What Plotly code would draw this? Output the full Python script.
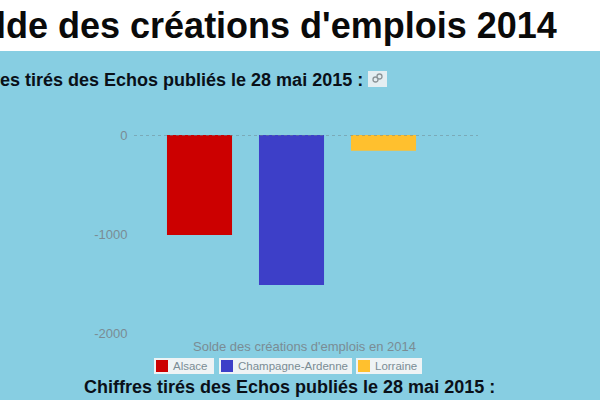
import plotly.graph_objects as go

regions = ["Alsace", "Champagne-Ardenne", "Lorraine"]
soldes = [-1010, -1515, -160]
colors = ["#CC0000", "#3D3FC8", "#FFC02E"]
y_ticks = [0, -1000, -2000]
y_labels = ["0", "-1000", "-2000"]

BG = "#87CEE2"
FONT = "Liberation Sans, Arial, sans-serif"
GREY = "#7A8C94"

# plot area in pixels
L, R, T, B = 134, 478, 135, 333


def px(x):
    return (x - L) / (R - L)


def py(y):
    return 1 - (y - T) / (B - T)


def rect(x0, y0, x1, y1, color):
    return dict(
        type="rect", xref="paper", yref="paper",
        x0=px(x0), x1=px(x1), y0=py(y0), y1=py(y1),
        fillcolor=color, line_width=0, layer="below",
    )


def text(s, x, y, anchor, size, color, bold=False):
    return dict(
        text=f"<b>{s}</b>" if bold else s,
        xref="paper", yref="paper", x=px(x), y=py(y),
        xanchor=anchor, yanchor="middle", showarrow=False,
        font=dict(family=FONT, size=size, color=color),
    )


fig = go.Figure()
for region, solde, color in zip(regions, soldes, colors):
    fig.add_trace(
        go.Bar(
            x=[region], y=[solde], name=region, marker_color=color,
            marker_line_width=0, width=0.707, showlegend=False,
        )
    )

shapes = [rect(0, 0, 600, 51, "white")]
shapes.append(
    dict(
        type="line", xref="paper", yref="y", x0=0, x1=1, y0=0, y1=0,
        line=dict(color="#6F868E", width=1, dash="3px,3px"), layer="above",
    )
)
# link icon next to the subtitle
shapes.append(rect(368, 71, 387, 87, "#E4EEF2"))
for x0, y0, x1, y1 in [(373, 82, 378, 77), (377, 79, 382, 74)]:
    shapes.append(
        dict(
            type="circle", xref="paper", yref="paper",
            x0=px(x0), x1=px(x1), y0=py(y0), y1=py(y1),
            line=dict(color="#8C9599", width=1.3), fillcolor="rgba(0,0,0,0)",
        )
    )

annotations = [
    text("Solde des créations d'emplois 2014", 559, 25, "right", 36, "#0A0A0A", True),
    text("Chiffres tirés des Echos publiés le 28 mai 2015 :", 365, 80, "right", 18, "#0A1018", True),
    text("Solde des créations d'emplois en 2014", 304, 346, "center", 13, GREY),
    text("Chiffres tirés des Echos publiés le 28 mai 2015 :", 289, 387, "center", 18, "#0A1018", True),
]

# legend entries: white box, swatch, label
legend_boxes = [(154, 214), (219, 352), (356, 422)]
for region, color, (x0, x1) in zip(regions, colors, legend_boxes):
    shapes.append(rect(x0, 358, x1, 374, "#EEF3F5"))
    shapes.append(rect(x0 + 2, 360, x0 + 14, 372, color))
    annotations.append(text(region, x0 + 17, 366, "left", 11.5, GREY))

fig.update_layout(
    width=600,
    height=400,
    margin=dict(l=L, r=600 - R, t=T, b=400 - B, autoexpand=False),
    paper_bgcolor=BG,
    plot_bgcolor="rgba(0,0,0,0)",
    barmode="overlay",
    shapes=shapes,
    annotations=annotations,
    font=dict(family=FONT),
)
fig.update_xaxes(visible=False, type="category", categoryarray=regions, range=[-0.712, 3.027])
fig.update_yaxes(
    range=[-2000, 0],
    tickvals=y_ticks,
    ticktext=y_labels,
    ticks="outside",
    ticklen=3,
    tickcolor="rgba(0,0,0,0)",
    tickfont=dict(family=FONT, size=13, color=GREY),
    showgrid=False,
    zeroline=False,
    showline=False,
)

# page margin off so the figure fills the window
fig.write_html(
    "out.html",
    config=dict(displayModeBar=False),
    post_script="document.body.style.margin='0';document.body.style.overflow='hidden';",
)
